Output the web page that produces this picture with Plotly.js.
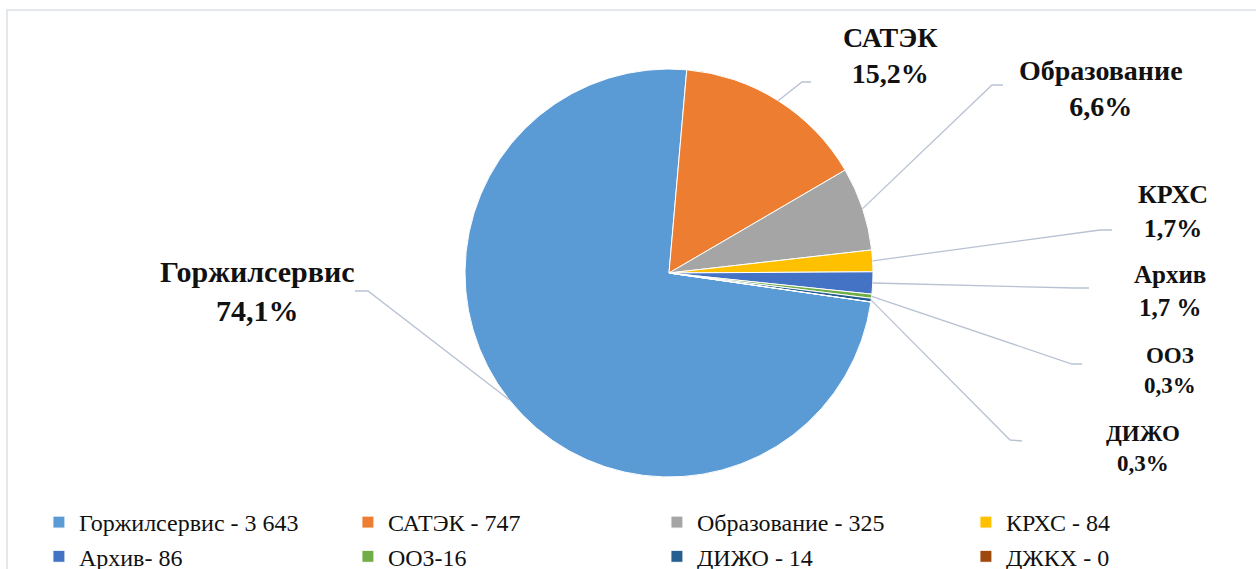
<!DOCTYPE html>
<html><head><meta charset="utf-8">
<script src="https://cdn.plot.ly/plotly-3.0.1.min.js"></script>
<style>html,body{margin:0;padding:0;background:#fff}#chart{width:1256px;height:569px}</style>
</head><body><div id="chart"></div>
<script>
const sliceNames = ['Горжилсервис','САТЭК','Образование','КРХС','Архив','ООЗ','ДИЖО','ДЖКХ'];
const values = [3643, 747, 325, 84, 86, 16, 14, 0];
const legendLabels = ['Горжилсервис - 3 643','САТЭК - 747','Образование - 325','КРХС - 84','Архив- 86','ООЗ-16','ДИЖО - 14','ДЖКХ - 0'];
const pctSep = ['', '', '', '', ' ', '', '', ''];
const colors = ['#5B9BD5','#ED7D31','#A5A5A5','#FFC000','#4472C4','#70AD47','#255E91','#9E480E'];

const W = 1256, H = 569;
const cx = 669, cy = 273, R = 204;
const rotation = 98.16;
const FONT = 'Times New Roman';
const labelPos = [[257,291,30],[890,56,28],[1101,89,28],[1173,211,26],[1170,291,25],[1170,370,23],[1143,448,23]];
const elbows = [[[368,291],[355,291]],[[802,82],[811,82]],[[992,85],[1003,85]],[[1100,230],[1112,230]],[[1075,288],[1089,288]],[[1072,364],[1082,364]],[[1010,440],[1022,441]]];

const px = x => x / W, py = y => 1 - y / H;
const total = values.reduce((a,b)=>a+b,0);

const annotations = [];
const shapes = [];
let cum = 0;
for (let i = 0; i < values.length; i++) {
  const v = values[i];
  if (i < labelPos.length) {
    const mid = (rotation + (cum + v/2) / total * 360) * Math.PI / 180;
    const ex = cx + R * Math.sin(mid), ey = cy - R * Math.cos(mid);
    const pct = (v / total * 100).toFixed(1).replace('.', ',') + pctSep[i] + '%';
    const [lx, ly, fs] = labelPos[i];
    annotations.push({
      xref:'paper', yref:'paper', x:px(lx), y:py(ly), xanchor:'center', yanchor:'middle',
      text: '<b>' + sliceNames[i] + '<br>' + pct + '</b>', showarrow:false, align:'center',
      font:{family:FONT, size:fs, color:'#111'}
    });
    const e = elbows[i];
    shapes.push({
      type:'path', xref:'paper', yref:'paper',
      path:`M${px(ex)},${py(ey)} L${px(e[0][0])},${py(e[0][1])} L${px(e[1][0])},${py(e[1][1])}`,
      line:{color:'#B8C2D2', width:1.3}
    });
  }
  cum += v;
}
shapes.push({type:'path', xref:'paper', yref:'paper',
  path:`M${px(7)},0 L${px(7)},${py(10)} L1,${py(10)}`, line:{color:'#DCE1E8', width:1.5}});

const trace = {
  type:'pie', labels:legendLabels, values:values, sort:false, direction:'clockwise',
  rotation:rotation, textinfo:'none', hoverinfo:'label+percent',
  marker:{colors:colors, line:{color:'#ffffff', width:1}},
  domain:{x:[px(cx-R), px(cx+R)], y:[py(cy+R), py(cy-R)]}
};

const layout = {
  width:W, height:H, margin:{l:0,r:0,t:0,b:0, autoexpand:false}, paper_bgcolor:'#fff',
  font:{family:FONT, color:'#111'},
  showlegend:true,
  legend:{orientation:'h', x:0.031, xanchor:'left', y:py(500), yanchor:'top',
    entrywidth:264, entrywidthmode:'pixels', traceorder:'normal',
    font:{family:FONT, size:24, color:'#111'}},
  annotations:annotations, shapes:shapes
};
Plotly.newPlot('chart', [trace], layout, {displayModeBar:false, staticPlot:true});
</script></body></html>
